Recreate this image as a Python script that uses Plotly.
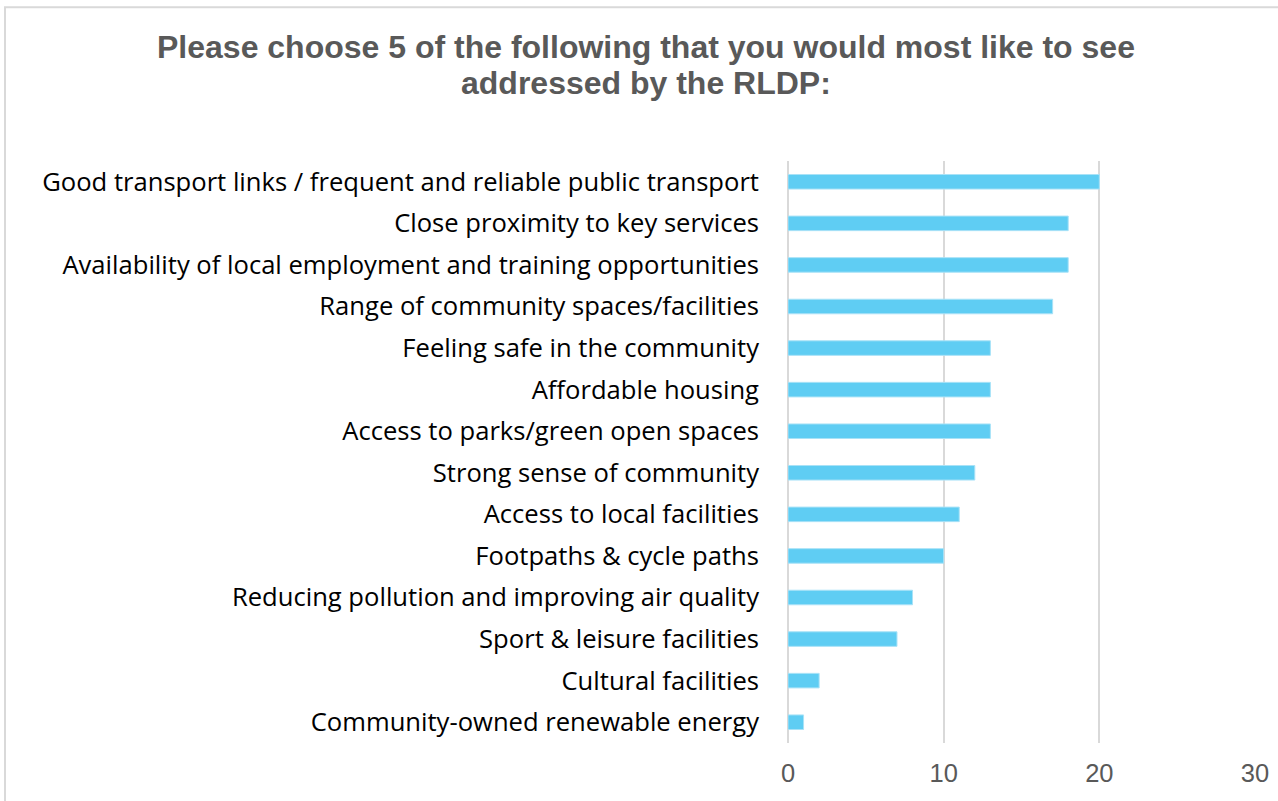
import plotly.graph_objects as go

categories = [
    "Good transport links / frequent and reliable public transport",
    "Close proximity to key services",
    "Availability of local employment and training opportunities",
    "Range of community spaces/facilities",
    "Feeling safe in the community",
    "Affordable housing",
    "Access to parks/green open spaces",
    "Strong sense of community",
    "Access to local facilities",
    "Footpaths & cycle paths",
    "Reducing pollution and improving air quality",
    "Sport & leisure facilities",
    "Cultural facilities",
    "Community-owned renewable energy",
]
responses = [20, 18, 18, 17, 13, 13, 13, 12, 11, 10, 8, 7, 2, 1]
x_ticks = [0, 10, 20, 30]
title_lines = [
    "Please choose 5 of the following that you would most like to see",
    "addressed by the RLDP:",
]

W, H = 1278, 801
title_font = dict(family="Liberation Sans, Arial", size=32, color="#595959", weight="bold")

fig = go.Figure(
    go.Bar(
        x=responses,
        y=categories,
        orientation="h",
        marker=dict(color="#5FCDF3", line=dict(color="#A9E2F7", width=1)),
    )
)

# two-line heading drawn as separate annotations for tight line spacing
title_ann = [
    dict(
        text=line, xref="paper", yref="paper",
        x=646 / W, y=1 - yc / H, xanchor="center", yanchor="middle",
        showarrow=False, font=title_font,
    )
    for line, yc in zip(title_lines, [47, 83])
]

fig.update_layout(
    width=W,
    height=H,
    margin=dict(l=0, r=0, t=0, b=0),
    paper_bgcolor="white",
    plot_bgcolor="white",
    showlegend=False,
    bargap=0.65,
    annotations=title_ann,
    xaxis=dict(
        domain=[788 / W, 1255 / W],
        automargin=False,
        range=[0, 30],
        tickvals=x_ticks,
        showgrid=True,
        gridcolor="#D9D9D9",
        gridwidth=2,
        zeroline=True,
        zerolinecolor="#D9D9D9",
        zerolinewidth=2,
        showline=False,
        ticks="",
        ticklabelstandoff=12,
        tickfont=dict(family="Liberation Sans, Arial", size=25.5, color="#595959"),
    ),
    yaxis=dict(
        domain=[(H - 743) / H, (H - 161) / H],
        automargin=False,
        autorange="reversed",
        showgrid=False,
        showline=False,
        ticks="",
        ticklabelstandoff=28,
        tickfont=dict(family="Open Sans", size=25.6, color="#000000"),
    ),
    shapes=[
        dict(
            type="rect", xref="paper", yref="paper",
            x0=5 / W, x1=1300 / W, y0=-20 / H, y1=1 - 7.3 / H,
            line=dict(color="#D9D9D9", width=2),
            fillcolor="rgba(0,0,0,0)",
        )
    ],
)

# page body margin removed so the figure sits flush in the window
fig.write_html("out.html", post_script="document.body.style.margin='0px';")
